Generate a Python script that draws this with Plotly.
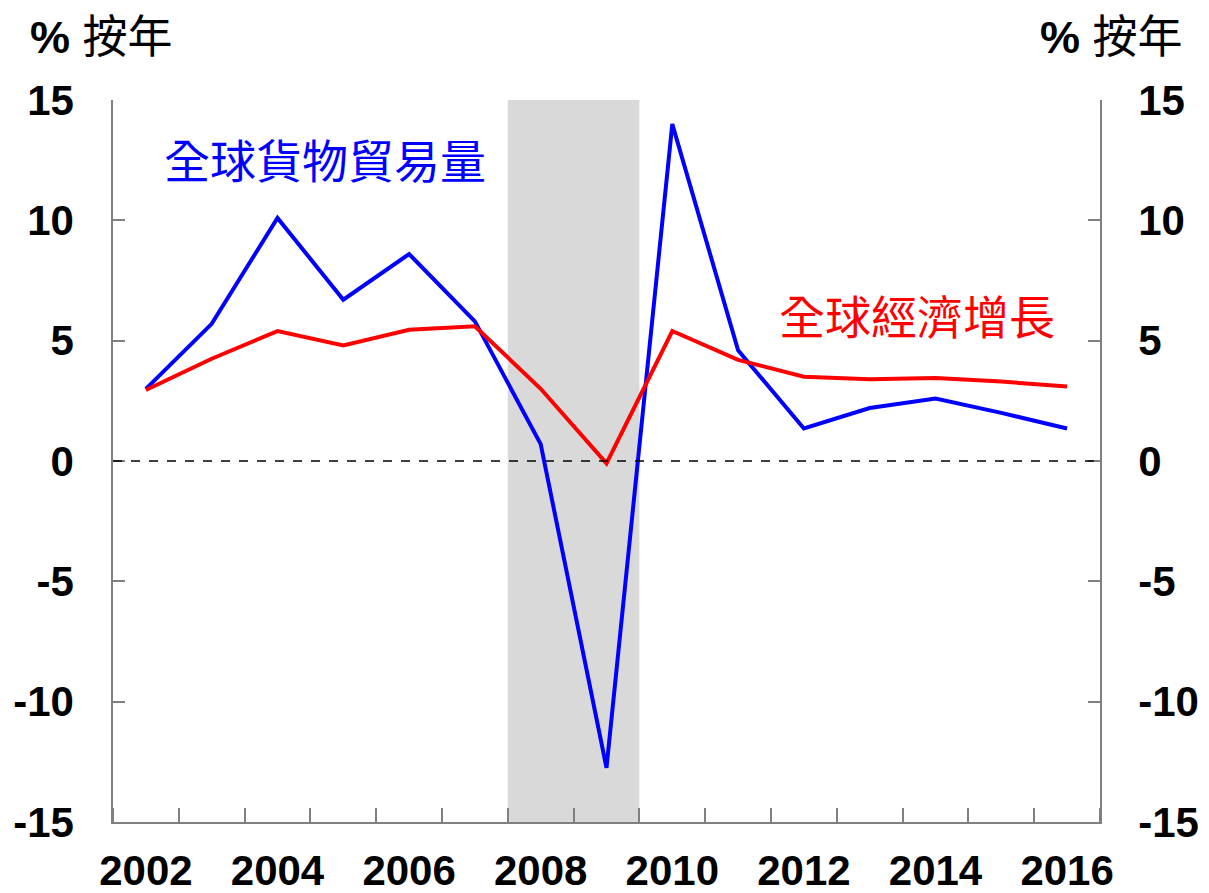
import plotly.graph_objects as go

years = list(range(2002, 2017))
trade_volume = [3.0, 5.7, 10.1, 6.7, 8.6, 5.8, 0.7, -12.75, 14.0, 4.6, 1.35, 2.2, 2.6, 2.0, 1.35]
world_growth = [2.95, 4.25, 5.4, 4.8, 5.45, 5.6, 3.0, -0.1, 5.4, 4.2, 3.5, 3.4, 3.45, 3.3, 3.1]
xtick_labels = ["2002", "2004", "2006", "2008", "2010", "2012", "2014", "2016"]
ytick_vals = [-15, -10, -5, 0, 5, 10, 15]
ytick_text = ["-15", "-10", "-5", "0", "5", "10", "15"]
crisis_band = [2007.5, 2009.5]

label_font = "Liberation Sans, Arial, sans-serif"
cjk_font = "Noto Sans CJK TC, Noto Sans CJK SC, sans-serif"
axis_col = "#808080"

fig = go.Figure()
fig.add_vrect(x0=crisis_band[0], x1=crisis_band[1], fillcolor="#D9D9D9", line_width=0, layer="below")
fig.add_hline(y=0, line=dict(color="black", width=1.5, dash="dash"))

fig.add_trace(go.Scatter(x=years, y=trade_volume, mode="lines", line=dict(color="#0000FF", width=4), showlegend=False))
fig.add_trace(go.Scatter(x=years, y=world_growth, mode="lines", line=dict(color="#FF0000", width=4), showlegend=False))
# invisible trace on right axis
fig.add_trace(go.Scatter(x=years, y=world_growth, yaxis="y2", mode="lines", line=dict(width=0), opacity=0, showlegend=False, hoverinfo="skip"))

tickfont = dict(family=label_font, size=42, color="black", weight="bold")

# page body has an 8px margin, so the figure starts at (8, 8) in the window
fig.update_layout(
    width=1201, height=885,
    margin=dict(l=105, r=109, t=92, b=71),
    plot_bgcolor="white", paper_bgcolor="white",
    xaxis=dict(
        range=[2001.5, 2016.5],
        tickmode="array",
        tickvals=[int(t) for t in xtick_labels],
        ticktext=xtick_labels,
        ticks="",
        tickfont=tickfont,
        ticklabelstandoff=11,
        automargin=False,
        showgrid=False, zeroline=False,
        showline=True, linecolor=axis_col, linewidth=1.5,
        minor=dict(tick0=2001.5, dtick=1, ticks="inside", ticklen=14, tickcolor=axis_col, tickwidth=1.5, showgrid=False),
    ),
    yaxis=dict(
        range=[-15, 15],
        tickmode="array", tickvals=ytick_vals, ticktext=ytick_text,
        ticks="inside", ticklen=12, tickcolor=axis_col, tickwidth=1.5,
        tickfont=tickfont,
        ticklabelstandoff=29,
        automargin=False,
        showgrid=False, zeroline=False,
        showline=True, linecolor=axis_col, linewidth=1.5,
    ),
    yaxis2=dict(
        range=[-15, 15], overlaying="y", side="right",
        tickmode="array", tickvals=ytick_vals, ticktext=ytick_text,
        ticks="inside", ticklen=12, tickcolor=axis_col, tickwidth=1.5,
        tickfont=tickfont,
        ticklabelstandoff=28,
        automargin=False,
        showgrid=False, zeroline=False,
        showline=True, linecolor=axis_col, linewidth=1.5,
    ),
)

fig.add_annotation(xref="paper", yref="paper", x=-0.086, y=1.087, xanchor="left", yanchor="middle",
                   text="<b>%</b> 按年", showarrow=False,
                   font=dict(family="Liberation Sans, Noto Sans CJK TC", size=45, color="black"))
fig.add_annotation(xref="paper", yref="paper", x=1.086, y=1.087, xanchor="right", yanchor="middle",
                   text="<b>%</b> 按年", showarrow=False,
                   font=dict(family="Liberation Sans, Noto Sans CJK TC", size=45, color="black"))
fig.add_annotation(x=2004.72, y=12.6, text="全球貨物貿易量", showarrow=False,
                   font=dict(family=cjk_font, size=46, color="#0000FF"))
fig.add_annotation(x=2013.72, y=6.1, text="全球經濟增長", showarrow=False,
                   font=dict(family=cjk_font, size=46, color="#FF0000"))

fig.write_html("out.html")
